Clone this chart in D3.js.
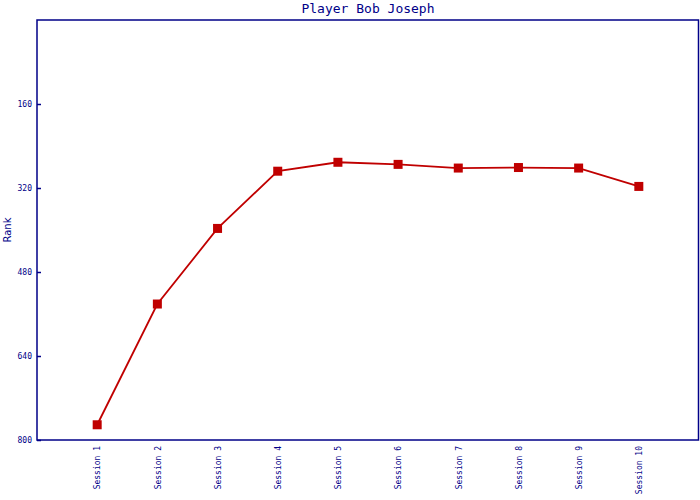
<!DOCTYPE html>
<html><head><meta charset="utf-8">
<script src="https://cdn.jsdelivr.net/npm/d3@7"></script>
<style>body{margin:0;background:#fff}</style>
</head><body>
<script>
const categories = ["Session 1","Session 2","Session 3","Session 4","Session 5","Session 6","Session 7","Session 8","Session 9","Session 10"];
const ranks = [771, 541, 397, 288, 271, 275, 282, 281, 282, 317];
const yTicks = [160, 320, 480, 640, 800];
const title = "Player Bob Joseph";
const yTitle = "Rank";

const W = 700, H = 500;
const m = {left: 37, right: 1, top: 20, bottom: 60};
const navy = "#000088", red = "#c00000";
const svg = d3.select("body").append("svg").attr("width", W).attr("height", H);

const x = d3.scalePoint().domain(categories).range([m.left, W - m.right]).padding(1);
const y = d3.scaleLinear().domain([0, 800]).range([m.top, H - m.bottom]);

// frame
svg.append("rect").attr("x", m.left).attr("y", m.top)
  .attr("width", W - m.right - m.left - 0.5).attr("height", H - m.bottom - m.top)
  .attr("fill", "none").attr("stroke", navy).attr("stroke-width", 1.5);

// y axis
const ya = svg.append("g").attr("transform", `translate(${m.left},0)`)
  .call(d3.axisRight(y).tickValues(yTicks).tickSize(4).tickFormat(d3.format("d")));
ya.select(".domain").remove();
ya.selectAll("line").attr("stroke", navy).attr("stroke-width", 1.5);
ya.selectAll("text").attr("x", -5).attr("text-anchor", "end")
  .attr("fill", navy).style("font-family", "DejaVu Sans Mono").style("font-size", "8px");

// x axis labels
const xa = svg.append("g").attr("transform", `translate(0,${H - m.bottom})`)
  .call(d3.axisBottom(x).tickSize(0));
xa.select(".domain").remove();
xa.selectAll("text")
  .attr("transform", "rotate(-90)")
  .attr("x", -6).attr("y", 0).attr("dy", "0.35em")
  .attr("text-anchor", "end")
  .attr("fill", navy).style("font-family", "DejaVu Sans Mono").style("font-size", "8px");

// line
const data = categories.map((c, i) => ({c, v: ranks[i]}));
svg.append("path").datum(data)
  .attr("fill", "none").attr("stroke", red).attr("stroke-width", 1.8)
  .attr("d", d3.line().x(d => x(d.c)).y(d => y(d.v)));

svg.selectAll("rect.mk").data(data).enter().append("rect").attr("class", "mk")
  .attr("x", d => x(d.c) - 4.5).attr("y", d => y(d.v) - 4.5)
  .attr("width", 9).attr("height", 9).attr("fill", red);

// title
svg.append("text").attr("x", (m.left + W - m.right) / 2).attr("y", 13)
  .attr("text-anchor", "middle").attr("fill", navy)
  .style("font-family", "DejaVu Sans Mono").style("font-size", "13px").text(title);

svg.append("text").attr("transform", `translate(11,${(m.top + H - m.bottom) / 2}) rotate(-90)`)
  .attr("text-anchor", "middle").attr("fill", navy)
  .style("font-family", "DejaVu Sans").style("font-size", "10px").text(yTitle);
</script>
</body></html>
